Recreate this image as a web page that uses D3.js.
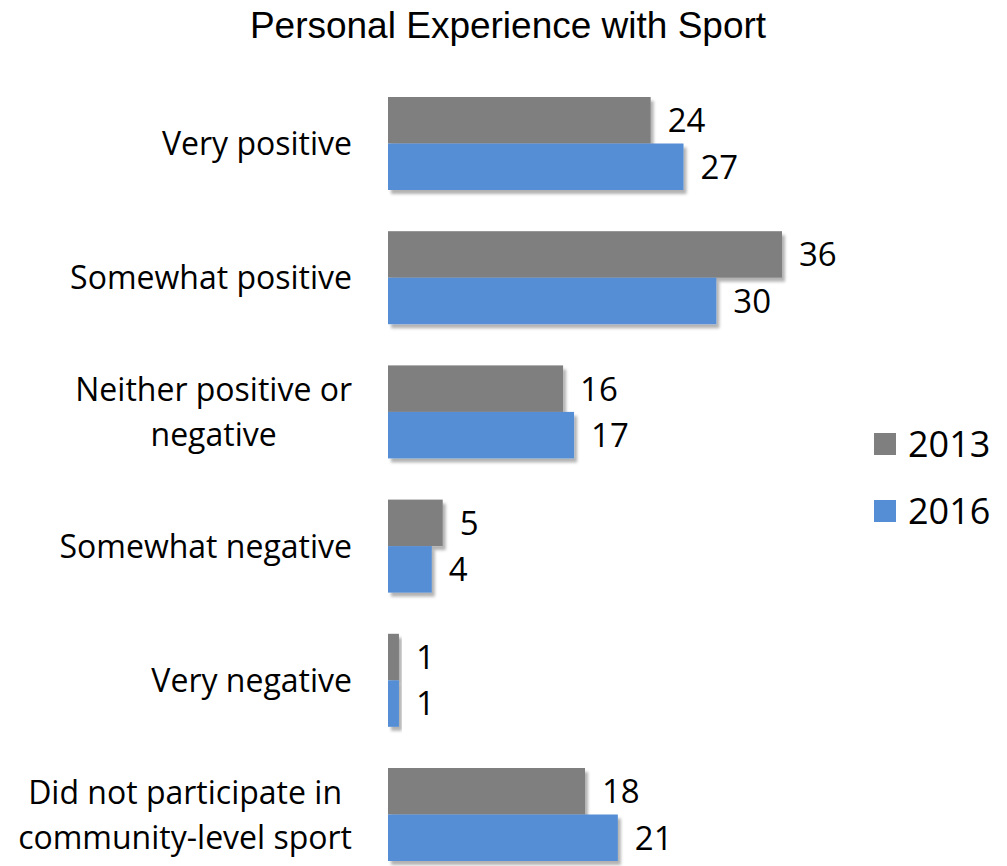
<!DOCTYPE html>
<html>
<head>
<meta charset="utf-8">
<script src="https://cdn.jsdelivr.net/npm/d3@7"></script>
<style>
  html, body { margin: 0; padding: 0; background: #fff; }
  svg { display: block; }
</style>
</head>
<body>
<svg id="chart" width="1007" height="866"></svg>
<script>
// Survey responses (percent) by year
const categories = [
  ["Very positive"],
  ["Somewhat positive"],
  ["Neither positive or", "negative"],
  ["Somewhat negative"],
  ["Very negative"],
  ["Did not participate in", "community-level sport"]
];
const seriesNames = ["2013", "2016"];
const values2013 = [24, 36, 16, 5, 1, 18];
const values2016 = [27, 30, 17, 4, 1, 21];
const colors = ["#7f7f7f", "#558ed5"];

const svg = d3.select("#chart");

const plotLeft = 388;
const plotTop = 97;
const bandStep = 134.2;

const x = d3.scaleLinear().domain([0, 36]).range([plotLeft, plotLeft + 394]);
const y = d3.scaleBand()
  .domain(d3.range(categories.length))
  .range([plotTop - 20.6, plotTop - 20.6 + bandStep * categories.length])
  .paddingInner(0.307)
  .paddingOuter(0.1535);
const inner = d3.scaleBand().domain(seriesNames).range([0, y.bandwidth()]);

// soft drop shadow under each bar
const defs = svg.append("defs");
const f = defs.append("filter").attr("id", "shadow")
  .attr("x", "-10%").attr("y", "-10%").attr("width", "130%").attr("height", "140%");
f.append("feDropShadow")
  .attr("dx", 3).attr("dy", 4).attr("stdDeviation", 1.6)
  .attr("flood-color", "#000").attr("flood-opacity", 0.3);

// title
svg.append("text")
  .attr("x", 508).attr("y", 38)
  .attr("text-anchor", "middle")
  .attr("font-family", "Liberation Sans, Arial, sans-serif")
  .attr("font-size", 37)
  .attr("fill", "#000")
  .text("Personal Experience with Sport");

const series = [values2013, values2016];
const rows = svg.append("g");

categories.forEach((lines, i) => {
  const g = rows.append("g");
  series.forEach((vals, s) => {
    const name = seriesNames[s];
    const y0 = y(i) + inner(name);
    g.append("rect")
      .attr("x", x(0))
      .attr("y", y0)
      .attr("width", x(vals[i]) - x(0))
      .attr("height", inner.bandwidth())
      .attr("fill", colors[s])
      .attr("filter", "url(#shadow)");
    g.append("text")
      .attr("x", x(vals[i]) + 17)
      .attr("y", y0 + inner.bandwidth() / 2)
      .attr("dy", "0.36em")
      .attr("font-family", "Open Sans, Noto Sans, sans-serif")
      .attr("font-size", 33)
      .attr("fill", "#000")
      .text(vals[i]);
  });

  // category label: lines centred on each other, block right-aligned to the axis
  const cy = y(i) + y.bandwidth() / 2;
  const lineH = 45;
  const t = svg.append("text")
    .attr("font-family", "Open Sans, Noto Sans, sans-serif")
    .attr("font-size", 32)
    .attr("fill", "#000")
    .attr("text-anchor", "middle");
  lines.forEach((ln, k) => {
    t.append("tspan")
      .attr("x", 0)
      .attr("y", cy + (k - (lines.length - 1) / 2) * lineH)
      .attr("dy", "0.36em")
      .text(ln);
  });
  const bb = t.node().getBBox();
  const shift = 352 - (bb.x + bb.width);
  t.selectAll("tspan").attr("x", shift);
});

// legend
const legend = svg.append("g");
seriesNames.forEach((name, s) => {
  const ly = 444 + s * 67;
  legend.append("rect")
    .attr("x", 874).attr("y", ly - 11)
    .attr("width", 22).attr("height", 22)
    .attr("fill", colors[s]);
  legend.append("text")
    .attr("x", 908).attr("y", ly)
    .attr("dy", "0.36em")
    .attr("font-family", "Open Sans, Noto Sans, sans-serif")
    .attr("font-size", 36)
    .attr("fill", "#000")
    .text(name);
});
</script>
</body>
</html>
